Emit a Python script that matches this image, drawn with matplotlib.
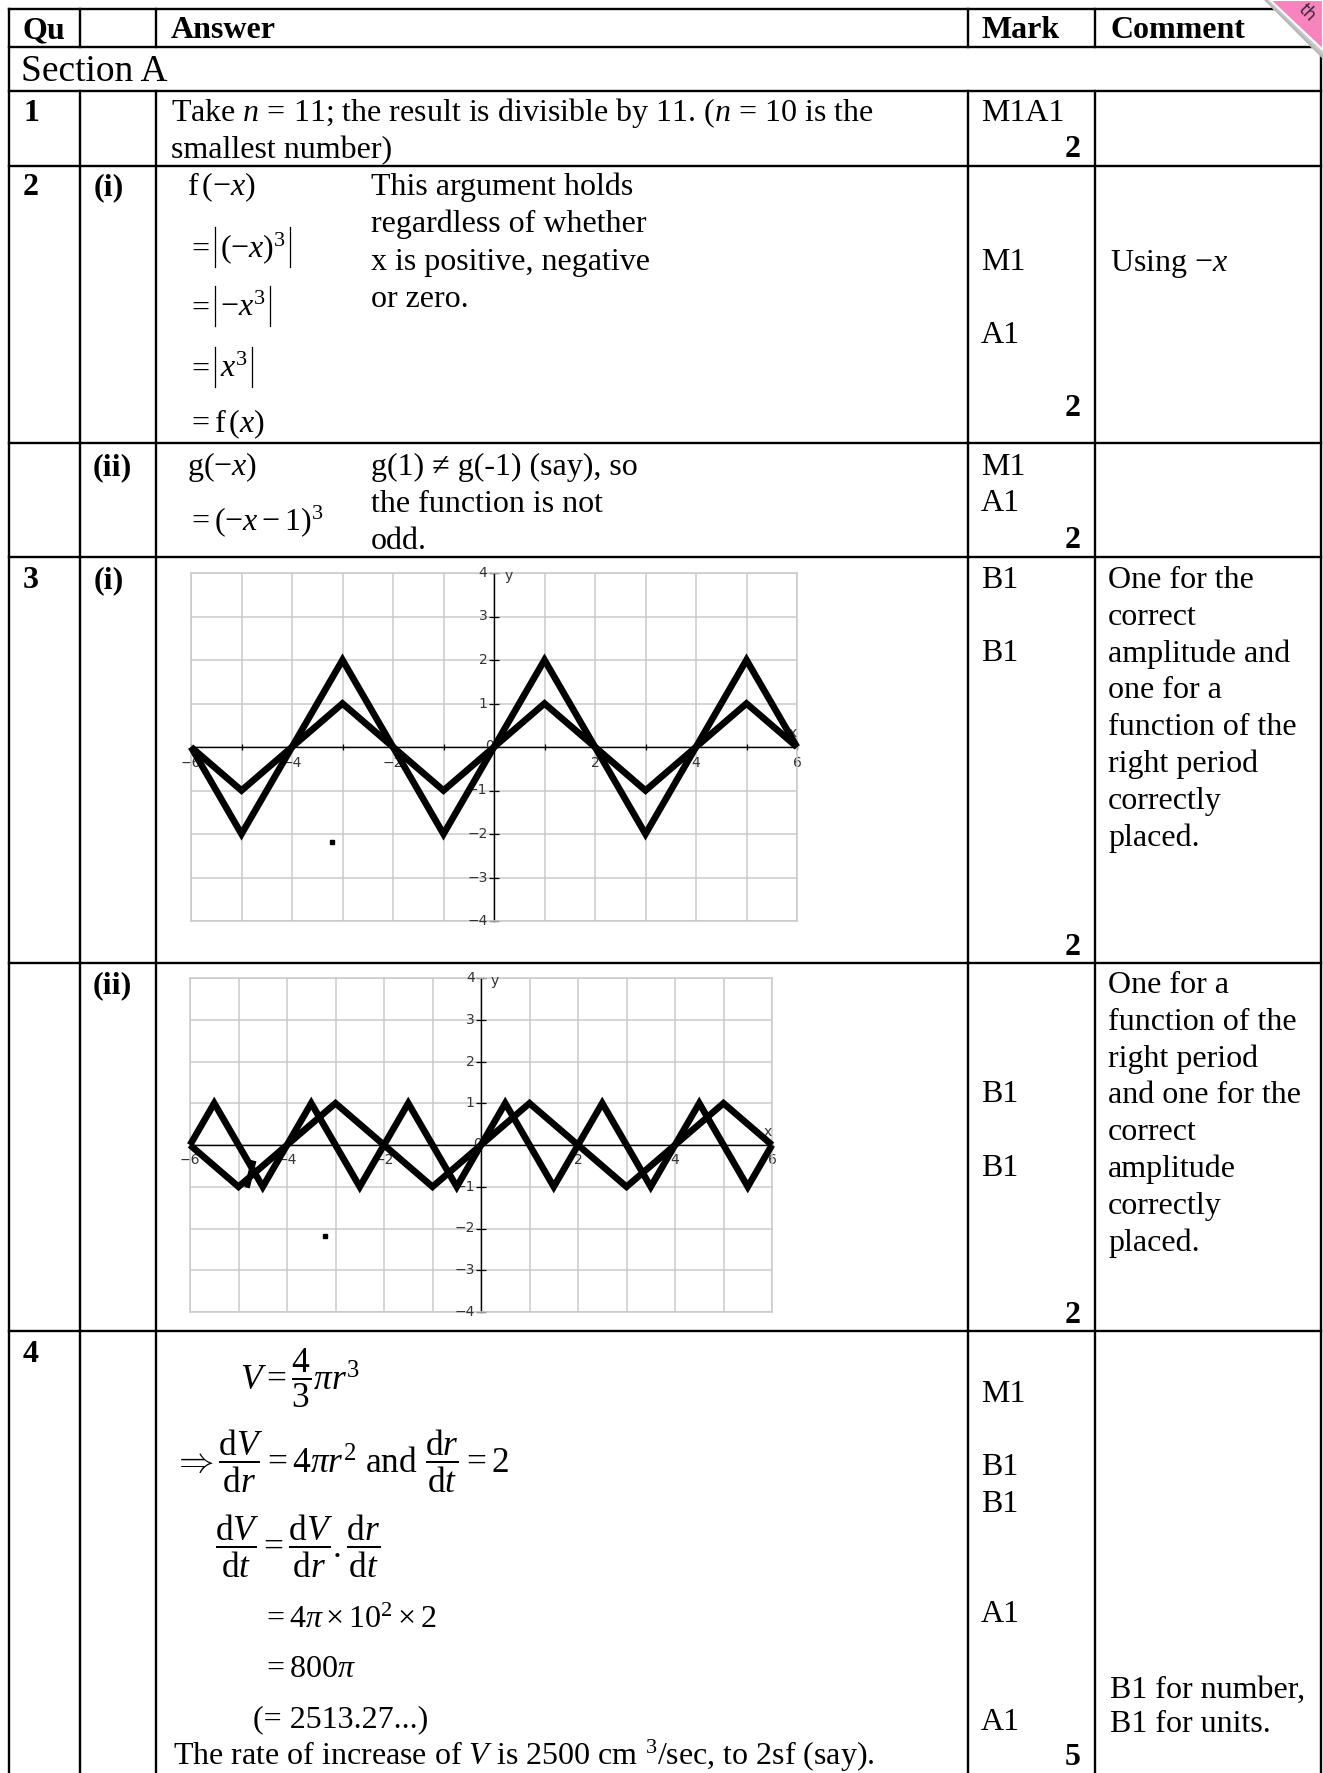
import numpy as np
import matplotlib
matplotlib.use('Agg')
import matplotlib.pyplot as plt
from matplotlib.patches import Polygon

plt.rcParams['font.family'] = ['Liberation Serif', 'DejaVu Serif']
plt.rcParams['mathtext.fontset'] = 'custom'
plt.rcParams['mathtext.rm'] = 'Liberation Serif'
plt.rcParams['mathtext.it'] = 'Liberation Serif:italic'
plt.rcParams['mathtext.bf'] = 'Liberation Serif:bold'

# ---------------- data ----------------
# graph 3(i): y = f(x) (amplitude 1) and y = 2f(x)
g1_x = [-6, -5, -4, -3, -2, -1, 0, 1, 2, 3, 4, 5, 6]
g1_small = [0, -1, 0, 1, 0, -1, 0, 1, 0, -1, 0, 1, 0]
g1_big = [0, -2, 0, 2, 0, -2, 0, 2, 0, -2, 0, 2, 0]
# graph 3(ii): y = f(x) and y = f(2x)
g2_x = [-6, -5, -4, -3, -2, -1, 0, 1, 2, 3, 4, 5, 6]
g2_slow = [0, -1, 0, 1, 0, -1, 0, 1, 0, -1, 0, 1, 0]
g2_fast_x = [-6, -5.5, -4.5, -3.5, -2.5, -1.5, -0.5, 0.5, 1.5, 2.5, 3.5, 4.5, 5.5, 6]
g2_fast = [0, 1, -1, 1, -1, 1, -1, 1, -1, 1, -1, 1, -1, 0]
g2_stray_x = [-4.81, -4.70]
g2_stray_y = [-0.96, -0.44]
dot_x = [-3.21]
dot_y = [-2.18]
x_ticklabels = ['\u22126', '\u22124', '\u22122', '0', '2', '4', '6']
y_ticklabels = ['4', '3', '2', '1', '\u22121', '\u22122', '\u22123', '\u22124']

# ---------------- table text ----------------
headers = ['Qu', 'Answer', 'Mark', 'Comment']
section = 'Section A'
q1_text = ['Take $n$ = 11; the result is divisible by 11. ($n$ = 10 is the',
           'smallest number)']
q2i_first = r'$\mathrm{f}\,(-x)$'
q2i_abs = [r'$(-x)^{3}$', r'$-x^{3}$', r'$x^{3}$']
q2i_last = r'$=\mathrm{f}\,(x)$'
q2i_text = ['This argument holds', 'regardless of whether',
            'x is positive, negative', 'or zero.']
q2ii_math = [r'$\mathrm{g}(-x)$', r'$=(-x-1)^{3}$']
q2ii_text = ['g(1) \u2260 g(-1) (say), so', 'the function is not', 'odd.']
q3i_comment = ['One for the', 'correct', 'amplitude and', 'one for a',
               'function of the', 'right period', 'correctly', 'placed.']
q3ii_comment = ['One for a', 'function of the', 'right period', 'and one for the',
                'correct', 'amplitude', 'correctly', 'placed.']
q4_frac = [r'$V=\dfrac{4}{3}\pi r^{3}$',
           r'$\Rightarrow\dfrac{\mathrm{d}V}{\mathrm{d}r}=4\pi r^{2}$ and $\dfrac{\mathrm{d}r}{\mathrm{d}t}=2$',
           r'$\dfrac{\mathrm{d}V}{\mathrm{d}t}=\dfrac{\mathrm{d}V}{\mathrm{d}r}.\dfrac{\mathrm{d}r}{\mathrm{d}t}$']
q4_rest = [r'$=4\pi\times10^{2}\times2$', r'$=800\pi$', '(= 2513.27...)',
           'The rate of increase of $V$ is 2500 cm ${}^{3}$/sec, to 2sf (say).']
q4_comment = ['B1 for number,', 'B1 for units.']

W, H = 1323, 1773
FS = 23
LH = 36.8

fig = plt.figure(figsize=(W / 100, H / 100), dpi=100)
fig.patch.set_facecolor('white')
bg = fig.add_axes([0, 0, 1, 1])
bg.set_xlim(0, W)
bg.set_ylim(H, 0)
bg.axis('off')


def put(x, y, s, bold=False, size=FS, ha='left', va='baseline', **kw):
    return bg.text(x, y, s, fontsize=size, fontweight='bold' if bold else 'normal',
                   ha=ha, va=va, color='black', **kw)


# table rules
lw = 1.7
rows = [47, 91, 166, 443, 557, 963, 1331]
bg.plot([9, 1275], [9, 9], color='k', lw=lw)
for y in rows:
    bg.plot([9, 1321], [y, y], color='k', lw=lw)
bg.plot([9, 9], [9, H], color='k', lw=lw)
bg.plot([1321, 1321], [50, H], color='k', lw=lw)
for x in [80, 156, 968, 1095]:
    bg.plot([x, x], [9, 47], color='k', lw=lw)
    bg.plot([x, x], [91, H], color='k', lw=lw)

# header + section
for x, s in zip([22, 171, 981, 1110], headers):
    put(x, 38, s, bold=True)
put(21, 81, section, size=27)

# question 1
put(23, 121, '1', bold=True)
for i, s in enumerate(q1_text):
    put(171, 121 + i * LH, s)
put(981, 121, 'M1A1')
put(1081, 157, '2', bold=True, ha='right')

# question 2(i)
put(23, 195, '2', bold=True)
put(94, 195, '(i)', bold=True)
put(187, 195, q2i_first)
abs_texts = []
for y, s in zip([257, 316, 377], q2i_abs):
    put(187, y, r'$=$')
    abs_texts.append((y, put(220, y, s)))
put(187, 432, q2i_last)
for i, s in enumerate(q2i_text):
    put(371, 195 + i * 37.4, s)
put(981, 270, 'M1')
put(981, 343, 'A1')
put(1081, 416, '2', bold=True, ha='right')
put(1110, 271, 'Using $-x$')

# question 2(ii)
put(93, 475, '(ii)', bold=True)
for y, s in zip([475, 530], q2ii_math):
    put(187, y, s)
for i, s in enumerate(q2ii_text):
    put(371, 475 + i * LH, s)
put(981, 475, 'M1')
put(981, 511, 'A1')
put(1081, 548, '2', bold=True, ha='right')

# question 3
put(23, 588, '3', bold=True)
put(94, 588, '(i)', bold=True)
put(981, 588, 'B1')
put(981, 661, 'B1')
put(1081, 955, '2', bold=True, ha='right')
for i, s in enumerate(q3i_comment):
    put(1108, 588 + i * LH, s)

put(93, 993, '(ii)', bold=True)
put(981, 1102, 'B1')
put(981, 1176, 'B1')
put(1081, 1323, '2', bold=True, ha='right')
for i, s in enumerate(q3ii_comment):
    put(1108, 993 + i * LH, s)

# question 4
put(23, 1362, '4', bold=True)
for (x, y), s in zip([(240, 1390), (173, 1473), (215, 1558)], q4_frac):
    put(x, y, s, size=25.5)
for (x, y), s in zip([(262, 1628), (262, 1677), (253, 1727), (173, 1765)], q4_rest):
    put(x, y, s)
put(981, 1402, 'M1')
put(981, 1475, 'B1')
put(981, 1512, 'B1')
put(981, 1622, 'A1')
put(981, 1730, 'A1')
put(1081, 1765, '5', bold=True, ha='right')
for i, s in enumerate(q4_comment):
    put(1110, 1698 + i * 34, s)

# tall absolute-value bars around the 2(i) expressions
fig.canvas.draw()
ren = fig.canvas.get_renderer()
inv = bg.transData.inverted()
for y, t in abs_texts:
    bb = t.get_window_extent(renderer=ren)
    x1 = inv.transform((bb.x1, bb.y0))[0]
    for xb in (215, x1 + 4):
        bg.plot([xb, xb], [y - 30, y + 10], color='k', lw=0.9)


# graphs
def graph(box, curves, stray=None):
    l, t, r, b = box
    ax = fig.add_axes([l / W, 1 - b / H, (r - l) / W, (b - t) / H])
    ax.set_xlim(-6, 6)
    ax.set_ylim(-4, 4)
    ax.set_xticks(range(-6, 7))
    ax.set_yticks(range(-4, 5))
    ax.grid(True, color='#cacaca', lw=1.1)
    ax.tick_params(length=0, labelbottom=False, labelleft=False)
    for sp in ax.spines.values():
        sp.set_color('#cacaca')
        sp.set_linewidth(1.1)
    ax.set_axisbelow(True)
    ax.plot([-6, 6], [0, 0], color='k', lw=1.0, zorder=2, clip_on=False)
    ax.plot([0, 0], [-4, 4], color='k', lw=1.0, zorder=2, clip_on=False)
    ax.hlines(np.arange(-4, 5), -0.1, 0.1, color='k', lw=0.9, zorder=2, clip_on=False)
    ax.vlines(np.arange(-6, 7), -0.07, 0.07, color='k', lw=0.9, zorder=2, clip_on=False)
    lab_kw = dict(fontsize=10, family='DejaVu Sans', color='#333333', clip_on=False)
    y_vals = [4, 3, 2, 1, -1, -2, -3, -4]
    for v, s in zip(y_vals, y_ticklabels):
        ax.text(-0.13, v, s, ha='right', va='center', **lab_kw)
    for v, s in zip(range(-6, 7, 2), x_ticklabels):
        if s == '0':
            ax.text(-0.08, 0.03, s, ha='center', va='center', zorder=2, **lab_kw)
        else:
            ax.text(v, -0.37, s, ha='center', va='center', zorder=2, **lab_kw)
    ax.text(0.2, 3.92, 'y', ha='left', va='center', **lab_kw)
    ax.text(5.92, 0.32, 'x', ha='center', va='center', **lab_kw)
    for xs, ys in curves:
        ax.plot(xs, ys, color='k', lw=4.8, solid_joinstyle='miter',
                solid_capstyle='butt', zorder=3, clip_on=False)
    if stray is not None:
        ax.plot(stray[0], stray[1], color='k', lw=4.0, zorder=3)
    ax.plot(dot_x, dot_y, 's', color='k', ms=2.5, zorder=3)
    return ax


graph((191, 573, 797, 921), [(g1_x, g1_small), (g1_x, g1_big)])
graph((190, 978, 772, 1312), [(g2_x, g2_slow), (g2_fast_x, g2_fast)],
      stray=(g2_stray_x, g2_stray_y))

# page curl corner
fold = Polygon([(1264, 0), (W, 0), (W, 59)], closed=True, facecolor='white',
               edgecolor='none', zorder=5)
bg.add_patch(fold)
gx, gy = np.meshgrid(np.linspace(1258, W, 90), np.linspace(0, 66, 90))
d = (gx - gy - 1264) / np.sqrt(2)
shade = 1 - 0.32 * np.exp(-np.clip(d, 0, None) / 9.0)
im = bg.imshow(shade, extent=(1258, W, 66, 0), cmap='gray', vmin=0, vmax=1,
               zorder=6, aspect='auto', interpolation='bilinear')
im.set_clip_path(fold)
pink = Polygon([(1270, 0), (W, 0), (W, 50)], closed=True, facecolor='#f784bf',
               edgecolor='white', lw=1.5, zorder=7)
bg.add_patch(pink)
bg.text(1307, 13, 'th', rotation=-46, fontsize=12, color='#3a2a33',
        family='DejaVu Sans', ha='center', va='center', zorder=8)

fig.savefig('out.png', dpi=100, facecolor='white')
